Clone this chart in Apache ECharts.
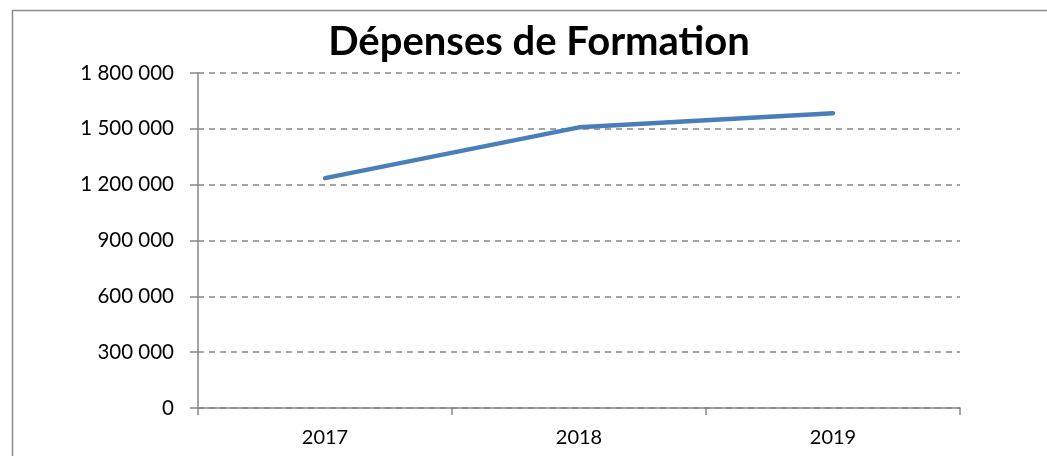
<!DOCTYPE html>
<html>
<head>
<meta charset="utf-8">
<style>
  html, body { margin: 0; padding: 0; background: #fff; }
  #chart { width: 1047px; height: 456px; }
</style>
<script src="https://cdn.jsdelivr.net/npm/echarts@6/dist/echarts.min.js"></script>
</head>
<body>
<div id="chart"></div>
<script>
// données
var years = ['2017', '2018', '2019'];
var depenses = [1235000, 1508000, 1584000];
var yTicks = [0, 300000, 600000, 900000, 1200000, 1500000, 1800000];

var myChart = echarts.init(document.getElementById('chart'));

function fmt(v) {
    // séparateur des milliers en espace
    return String(v).replace(/\B(?=(\d{3})+(?!\d))/g, ' ');
}

myChart.setOption({
    animation: false,
    textStyle: { fontFamily: 'Lato' },
    title: {
        text: 'Dépenses de Formation',
        left: 534,
        top: 17,
        textAlign: 'center',
        textStyle: { fontSize: 40, fontWeight: 'bold', color: '#000', fontFamily: 'Lato' }
    },
    graphic: [{
        type: 'rect',
        shape: { x: 12.5, y: 10.5, width: 1200, height: 600 },
        style: { fill: null, stroke: '#8c8c8c', lineWidth: 1.5 },
        silent: true
    }],
    grid: { left: 198, right: 87, top: 73, bottom: 48 },
    xAxis: {
        type: 'category',
        data: years,
        boundaryGap: true,
        axisLine: { lineStyle: { color: '#868686', width: 1.5 } },
        axisTick: { show: true, length: 7, lineStyle: { color: '#868686', width: 1.5 } },
        axisLabel: { color: '#000', fontSize: 20, margin: 20 }
    },
    yAxis: {
        type: 'value',
        min: yTicks[0],
        max: yTicks[yTicks.length - 1],
        interval: yTicks[1] - yTicks[0],
        axisLine: { show: true, lineStyle: { color: '#868686', width: 1.5 } },
        axisTick: { show: true, length: 8, lineStyle: { color: '#868686', width: 1.5 } },
        axisLabel: { color: '#000', fontSize: 20.5, margin: 24, formatter: fmt },
        splitLine: { lineStyle: { color: '#868686', type: [6, 5], width: 1.5 } }
    },
    series: [{
        type: 'line',
        data: depenses,
        symbol: 'none',
        lineStyle: { color: '#4a7ebb', width: 4.5, cap: 'round', join: 'round' }
    }]
});
</script>
</body>
</html>
